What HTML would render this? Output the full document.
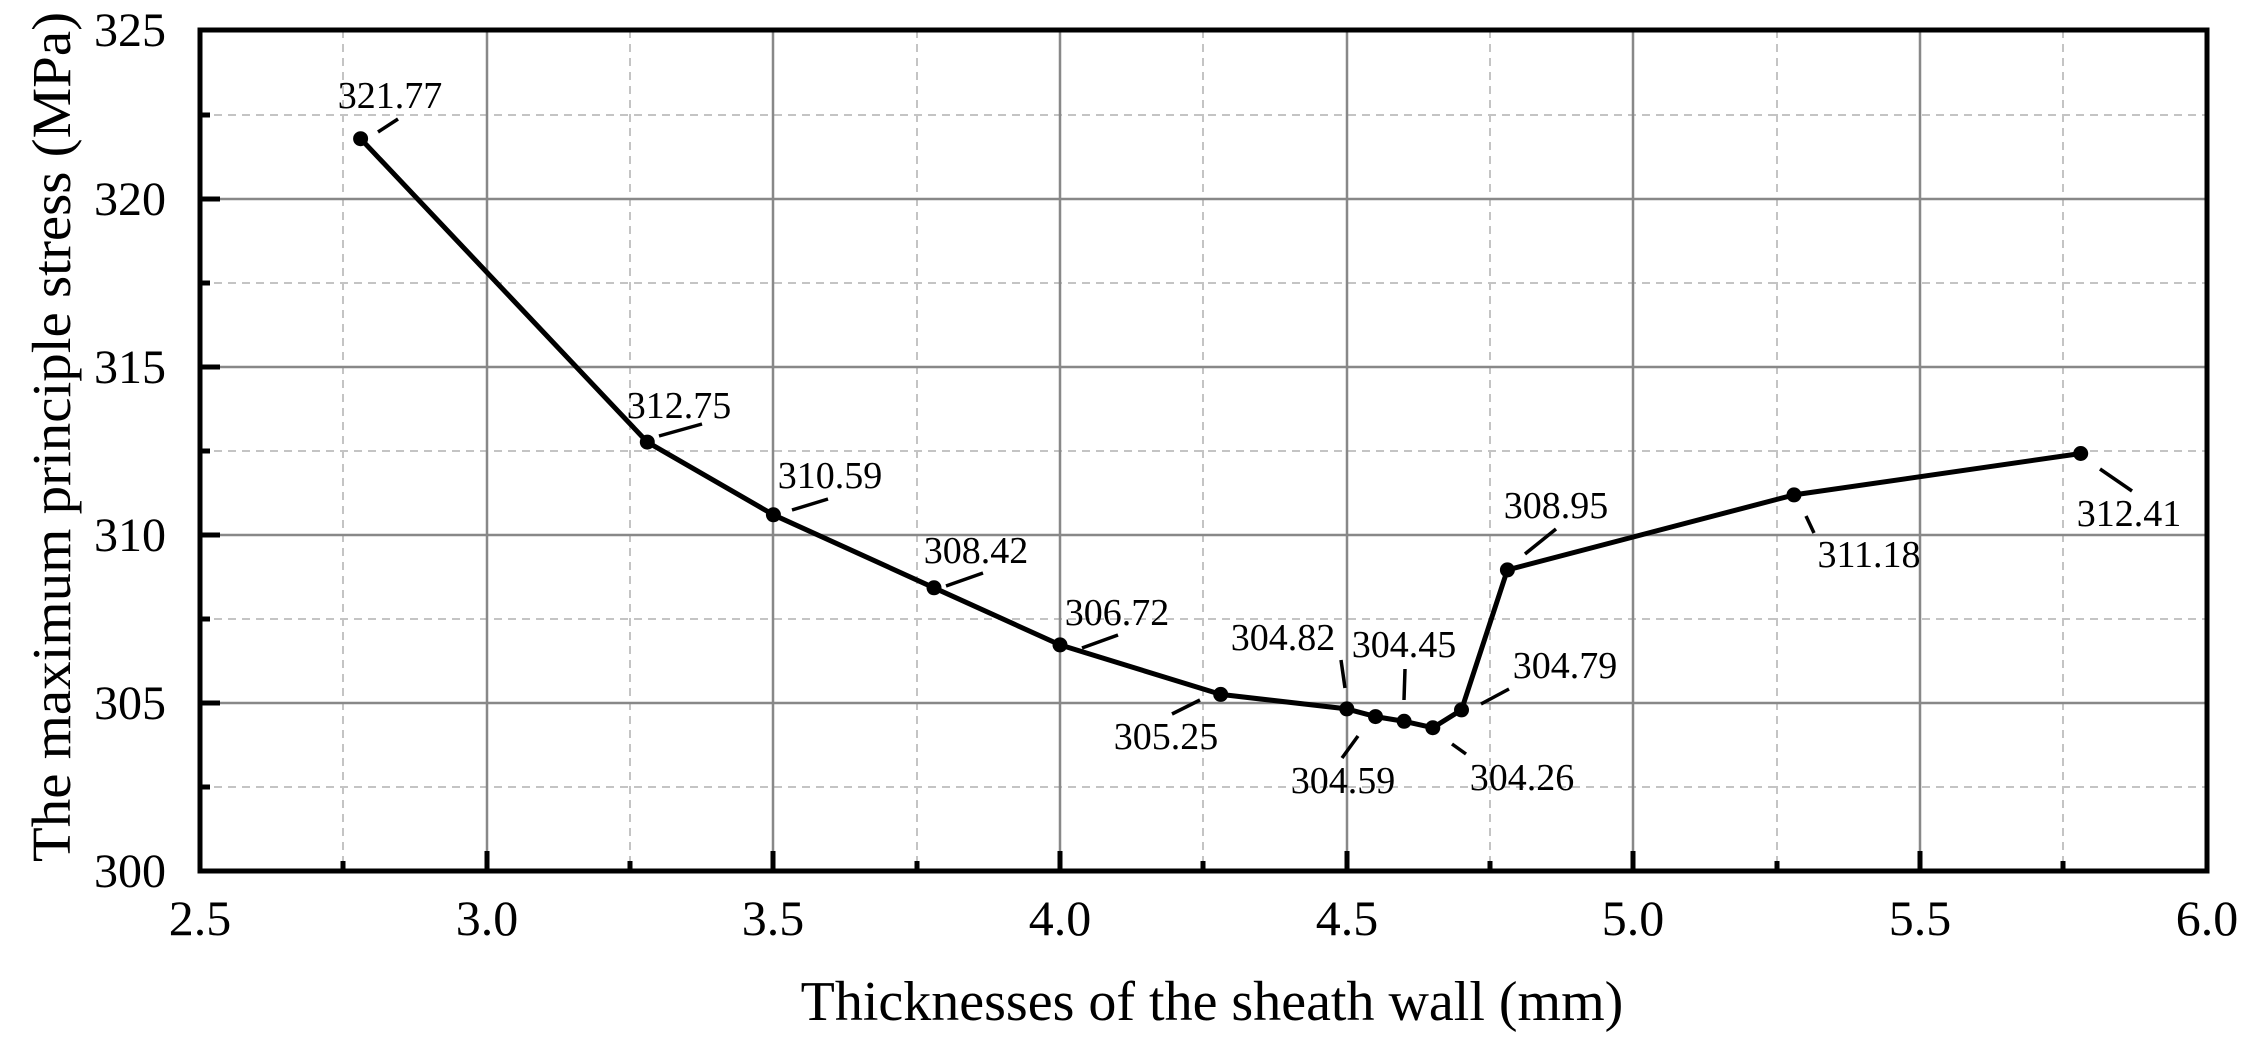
<!DOCTYPE html>
<html><head><meta charset="utf-8"><style>
html,body{margin:0;padding:0;background:#fff;}
svg{display:block;}
text{font-family:"Liberation Serif",serif;fill:#000;}
</style></head><body>
<svg width="2247" height="1047" viewBox="0 0 2247 1047" xmlns="http://www.w3.org/2000/svg">
<g stroke="#c4c4c4" stroke-width="2" stroke-dasharray="8,6">
<line x1="343" y1="30" x2="343" y2="871"/><line x1="630" y1="30" x2="630" y2="871"/><line x1="917" y1="30" x2="917" y2="871"/><line x1="1203" y1="30" x2="1203" y2="871"/><line x1="1490" y1="30" x2="1490" y2="871"/><line x1="1777" y1="30" x2="1777" y2="871"/><line x1="2063" y1="30" x2="2063" y2="871"/>
<line x1="200" y1="115" x2="2207" y2="115"/><line x1="200" y1="283" x2="2207" y2="283"/><line x1="200" y1="451" x2="2207" y2="451"/><line x1="200" y1="619" x2="2207" y2="619"/><line x1="200" y1="787" x2="2207" y2="787"/>
</g>
<g stroke="#888" stroke-width="2.5">
<line x1="487" y1="30" x2="487" y2="871"/><line x1="773" y1="30" x2="773" y2="871"/><line x1="1060" y1="30" x2="1060" y2="871"/><line x1="1347" y1="30" x2="1347" y2="871"/><line x1="1633" y1="30" x2="1633" y2="871"/><line x1="1920" y1="30" x2="1920" y2="871"/>
<line x1="200" y1="199" x2="2207" y2="199"/><line x1="200" y1="367" x2="2207" y2="367"/><line x1="200" y1="535" x2="2207" y2="535"/><line x1="200" y1="703" x2="2207" y2="703"/>
</g>
<g stroke="#000" stroke-width="5">
<line x1="487" y1="871" x2="487" y2="851"/><line x1="773" y1="871" x2="773" y2="851"/><line x1="1060" y1="871" x2="1060" y2="851"/><line x1="1347" y1="871" x2="1347" y2="851"/><line x1="1633" y1="871" x2="1633" y2="851"/><line x1="1920" y1="871" x2="1920" y2="851"/>
<line x1="343" y1="871" x2="343" y2="861"/><line x1="630" y1="871" x2="630" y2="861"/><line x1="917" y1="871" x2="917" y2="861"/><line x1="1203" y1="871" x2="1203" y2="861"/><line x1="1490" y1="871" x2="1490" y2="861"/><line x1="1777" y1="871" x2="1777" y2="861"/><line x1="2063" y1="871" x2="2063" y2="861"/>
<line x1="200" y1="199" x2="220" y2="199"/><line x1="200" y1="367" x2="220" y2="367"/><line x1="200" y1="535" x2="220" y2="535"/><line x1="200" y1="703" x2="220" y2="703"/>
<line x1="200" y1="115" x2="210" y2="115"/><line x1="200" y1="283" x2="210" y2="283"/><line x1="200" y1="451" x2="210" y2="451"/><line x1="200" y1="619" x2="210" y2="619"/><line x1="200" y1="787" x2="210" y2="787"/>
</g>
<rect x="200" y="30" width="2007" height="841" fill="none" stroke="#000" stroke-width="5"/>
<g font-size="48" text-anchor="end">
<text x="166" y="46">325</text><text x="166" y="215">320</text><text x="166" y="383">315</text><text x="166" y="551">310</text><text x="166" y="719">305</text><text x="166" y="887">300</text>
</g>
<g font-size="50" text-anchor="middle">
<text x="200" y="935">2.5</text><text x="487" y="935">3.0</text><text x="773" y="935">3.5</text><text x="1060" y="935">4.0</text><text x="1347" y="935">4.5</text><text x="1633" y="935">5.0</text><text x="1920" y="935">5.5</text><text x="2207" y="935">6.0</text>
</g>
<text x="1212" y="1020" font-size="56" text-anchor="middle">Thicknesses of the sheath wall (mm)</text>
<text transform="translate(70,437) rotate(-90)" font-size="55" text-anchor="middle" textLength="850" lengthAdjust="spacingAndGlyphs">The maximum principle stress (MPa)</text>
<polyline fill="none" stroke="#000" stroke-width="5" stroke-linejoin="round" points="360.6,138.7 647.3,442.1 773.4,514.8 934,587.8 1060,644.9 1220.7,694.4 1346.8,708.9 1375.5,716.6 1404.1,721.3 1432.8,727.7 1461.5,709.9 1507.4,569.9 1794,494.9 2080.7,453.5"/>
<g fill="#000">
<circle cx="360.6" cy="138.7" r="7.5"/><circle cx="647.3" cy="442.1" r="7.5"/><circle cx="773.4" cy="514.8" r="7.5"/><circle cx="934" cy="587.8" r="7.5"/><circle cx="1060" cy="644.9" r="7.5"/><circle cx="1220.7" cy="694.4" r="7.5"/><circle cx="1346.8" cy="708.9" r="7.5"/><circle cx="1375.5" cy="716.6" r="7.5"/><circle cx="1404.1" cy="721.3" r="7.5"/><circle cx="1432.8" cy="727.7" r="7.5"/><circle cx="1461.5" cy="709.9" r="7.5"/><circle cx="1507.4" cy="569.9" r="7.5"/><circle cx="1794" cy="494.9" r="7.5"/><circle cx="2080.7" cy="453.5" r="7.5"/>
</g>
<g stroke="#000" stroke-width="3.5">
<line x1="378" y1="132" x2="398" y2="119"/>
<line x1="659" y1="436" x2="702" y2="424"/>
<line x1="792" y1="510" x2="828" y2="499"/>
<line x1="946" y1="586" x2="983" y2="573"/>
<line x1="1082" y1="648" x2="1118" y2="635"/>
<line x1="1172" y1="714" x2="1200" y2="700"/>
<line x1="1341" y1="660" x2="1345" y2="688"/>
<line x1="1405" y1="669" x2="1404" y2="700"/>
<line x1="1358" y1="736" x2="1342" y2="758"/>
<line x1="1452" y1="744" x2="1466" y2="754"/>
<line x1="1481" y1="704" x2="1509" y2="689"/>
<line x1="1525" y1="554" x2="1556" y2="529"/>
<line x1="1806" y1="516" x2="1814" y2="533"/>
<line x1="2100" y1="469" x2="2132" y2="491"/>
</g>
<g font-size="38" text-anchor="middle">
<text x="390" y="108">321.77</text>
<text x="679" y="418">312.75</text>
<text x="830" y="488">310.59</text>
<text x="976" y="563">308.42</text>
<text x="1117" y="625">306.72</text>
<text x="1166" y="749">305.25</text>
<text x="1283" y="650">304.82</text>
<text x="1404" y="657">304.45</text>
<text x="1343" y="793">304.59</text>
<text x="1522" y="790">304.26</text>
<text x="1565" y="678">304.79</text>
<text x="1556" y="518">308.95</text>
<text x="1869" y="567">311.18</text>
<text x="2129" y="526">312.41</text>
</g>
</svg>
</body></html>
